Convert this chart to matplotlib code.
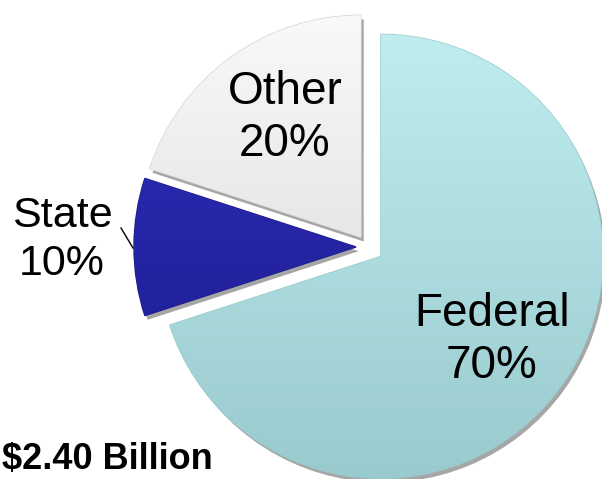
import numpy as np
import matplotlib.pyplot as plt
from matplotlib import patheffects as pe
from matplotlib.colors import LinearSegmentedColormap

labels = ["Federal", "State", "Other"]
shares = [70, 10, 20]
total_text = "$2.40 Billion"

colors_top = ["#c2f0f2", "#3030c0", "#fafafa"]
colors_bot = ["#99cacd", "#1a1a8a", "#d4d4d4"]

W, H = 602, 479
fig = plt.figure(figsize=(W / 100, H / 100), dpi=100)
ax = fig.add_axes([0, 0, 1, 1])

cx, cy, R = 368, H - 247, 222
# explode is in data units here (pixels)
wedges, _ = ax.pie(shares, startangle=90, counterclock=False,
                   explode=[16, 12, 12], radius=R, center=(cx, cy),
                   colors=colors_bot, wedgeprops=dict(linewidth=1.0))
ax.set_xlim(0, W)
ax.set_ylim(0, H)
ax.set_aspect("equal")
ax.axis("off")

# gradient fill clipped to each wedge, plus a soft drop shadow
for w, ct, cb in zip(wedges, colors_top, colors_bot):
    w.set_edgecolor(cb)
    w.set_path_effects([pe.SimplePatchShadow(offset=(2, -3), alpha=0.35,
                                             shadow_rgbFace="black"),
                        pe.Normal()])
    cmap = LinearSegmentedColormap.from_list("g", [cb, ct])
    grad = np.linspace(0, 1, 256).reshape(-1, 1)
    im = ax.imshow(grad, cmap=cmap, origin="lower", extent=(0, W, 0, H),
                   aspect="auto", zorder=w.get_zorder() + 0.1)
    im.set_clip_path(w)

font = "Liberation Sans"
ax.text(285, H - 118, f"{labels[2]}\n{shares[2]}%", ha="center", va="center",
        fontsize=33, family=font, linespacing=1.25, zorder=5)
ax.text(62, H - 240, f"{labels[1]}\n{shares[1]}%", ha="center", va="center",
        fontsize=31, family=font, linespacing=1.25, zorder=5)
ax.text(492, H - 340, f"{labels[0]}\n{shares[0]}%", ha="center", va="center",
        fontsize=33, family=font, linespacing=1.25, zorder=5)
ax.plot([121, 133], [H - 228, H - 248], color="black", lw=1, zorder=5)

ax.text(2, 2, total_text, ha="left", va="bottom", fontsize=26,
        fontweight="bold", family=font, zorder=5)

fig.savefig("out.png", dpi=100)
